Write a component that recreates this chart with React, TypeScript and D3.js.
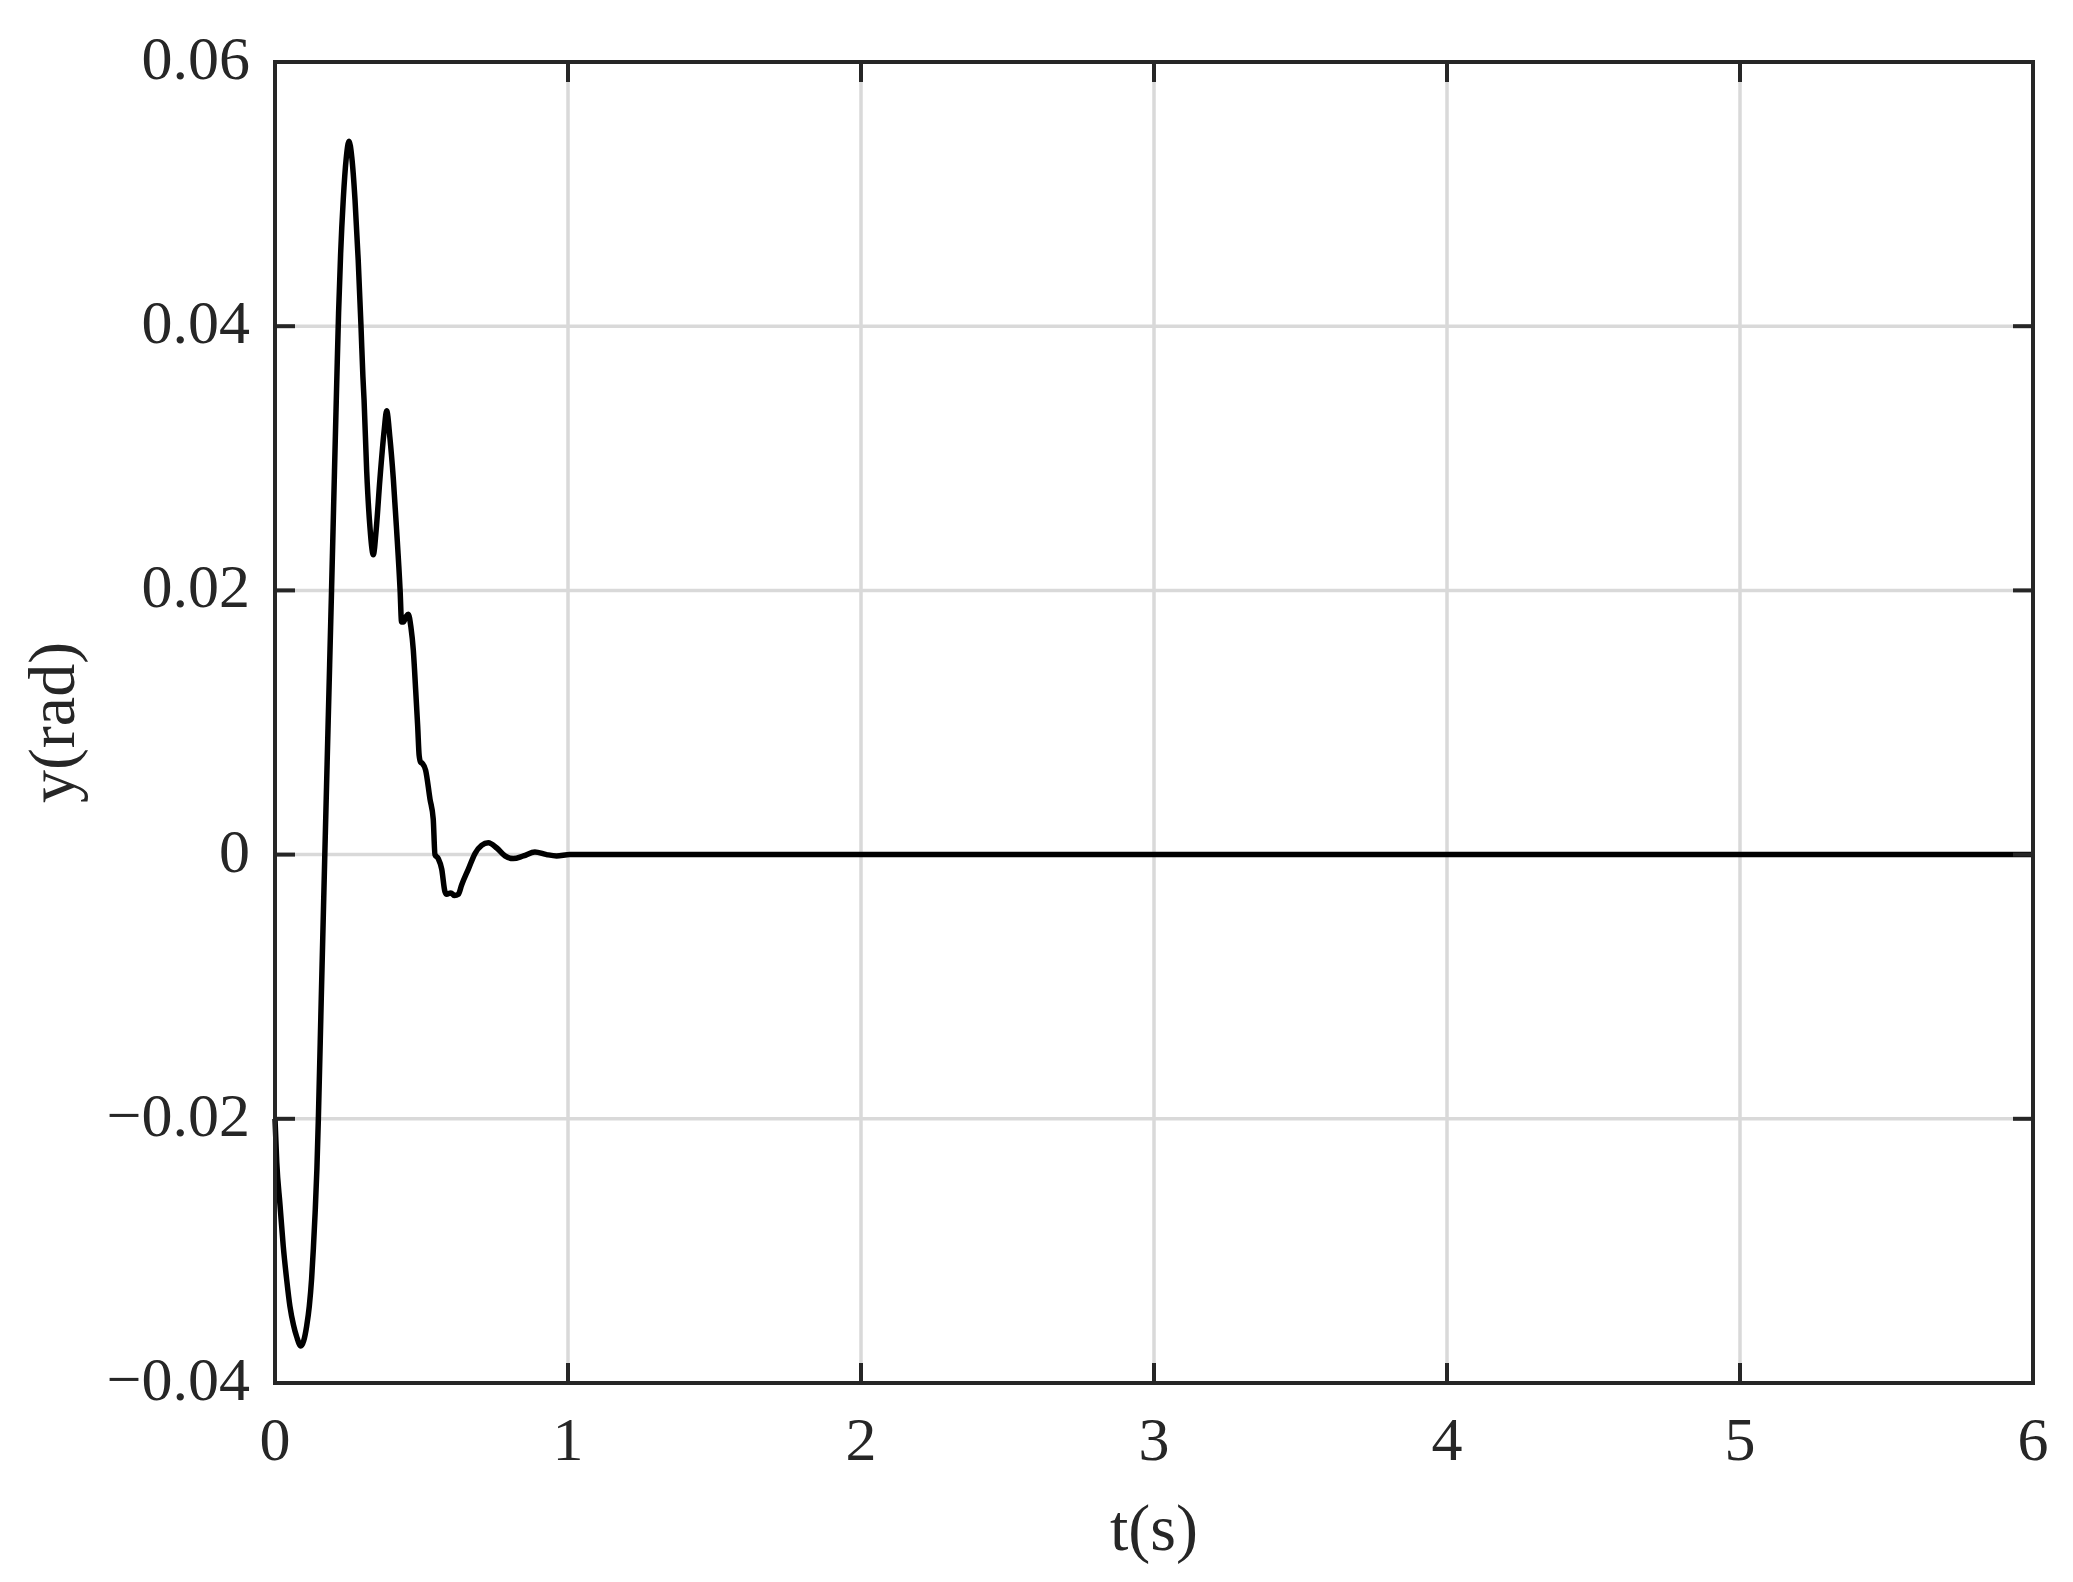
import React, { useRef, useEffect } from "react";
import * as d3 from "d3";

const timeData = [
  0, 0.006, 0.017, 0.028, 0.04, 0.051, 0.063, 0.074, 0.088, 0.098, 0.108, 0.117,
  0.125, 0.131, 0.137, 0.143, 0.148, 0.158, 0.17, 0.182, 0.193, 0.203, 0.211,
  0.217, 0.224, 0.233, 0.243, 0.2526, 0.262, 0.273, 0.284, 0.2935, 0.3, 0.304,
  0.313, 0.324, 0.3356, 0.345, 0.358, 0.373, 0.381, 0.392, 0.404, 0.415, 0.427,
  0.432, 0.438, 0.447, 0.455, 0.464, 0.472, 0.48, 0.487, 0.492, 0.497, 0.503,
  0.514, 0.529, 0.54, 0.546, 0.557, 0.569, 0.58, 0.586, 0.6, 0.613, 0.626, 0.637,
  0.66, 0.683, 0.705, 0.728, 0.757, 0.785, 0.813, 0.848, 0.887, 0.927, 0.961,
  1.006, 1.2, 2, 3, 4, 5, 6,
];
const angleData = [
  -0.02, -0.0233, -0.0265, -0.0296, -0.0322, -0.0342, -0.0356, -0.0365, -0.0372,
  -0.0368, -0.0357, -0.0342, -0.0321, -0.0298, -0.0271, -0.0238, -0.02, -0.0108,
  0, 0.0105, 0.02, 0.029, 0.036, 0.041, 0.0455, 0.0496, 0.0527, 0.054, 0.0528,
  0.0496, 0.045, 0.04, 0.0362, 0.0344, 0.029, 0.0248, 0.0227, 0.0245, 0.0284,
  0.0322, 0.0336, 0.0316, 0.0284, 0.0246, 0.02, 0.0176, 0.0176, 0.018, 0.0182,
  0.0172, 0.0155, 0.0125, 0.0097, 0.0075, 0.007, 0.0069, 0.0064, 0.0042, 0.0027,
  0, -0.0003, -0.0011, -0.0028, -0.003, -0.0029, -0.0031, -0.003, -0.0023,
  -0.0011, 0.0001, 0.0007, 0.0009, 0.0005, -0.0001, -0.0003, -0.0001, 0.0002, 0,
  -0.0001, 0, 0, 0, 0, 0, 0, 0,
];

const xTicks = [0, 1, 2, 3, 4, 5, 6];
const yTicks = [-0.04, -0.02, 0, 0.02, 0.04, 0.06];
const yTickLabels = ["\u22120.04", "\u22120.02", "0", "0.02", "0.04", "0.06"];

const W = 2073;
const H = 1582;
const margin = { left: 275, right: 40, top: 62, bottom: 199 };
const FONT = "'Liberation Serif', 'DejaVu Serif', serif";
const AXIS_COLOR = "#262626";

const App = () => {
  const svgRef = useRef(null);

  useEffect(() => {
    const svg = d3.select(svgRef.current);
    svg.selectAll("*").remove();

    const x = d3.scaleLinear().domain([0, 6]).range([margin.left, W - margin.right]);
    const y = d3.scaleLinear().domain([-0.04, 0.06]).range([H - margin.bottom, margin.top]);
    const [x0, x1] = x.range();
    const [y0, y1] = y.range();

    svg.append("rect").attr("width", W).attr("height", H).attr("fill", "#fff");

    // grid
    const grid = svg.append("g").attr("stroke", "#d9d9d9").attr("stroke-width", 3.5);
    grid
      .selectAll(".vg")
      .data(xTicks.slice(1, -1))
      .enter()
      .append("line")
      .attr("x1", (d) => x(d))
      .attr("x2", (d) => x(d))
      .attr("y1", y1)
      .attr("y2", y0);
    grid
      .selectAll(".hg")
      .data(yTicks.slice(1, -1))
      .enter()
      .append("line")
      .attr("x1", x0)
      .attr("x2", x1)
      .attr("y1", (d) => y(d))
      .attr("y2", (d) => y(d));

    // response curve
    const points = timeData.map((t, i) => [t, angleData[i]]);
    const line = d3
      .line()
      .x((d) => x(d[0]))
      .y((d) => y(d[1]))
      .curve(d3.curveMonotoneX);
    svg
      .append("path")
      .datum(points)
      .attr("d", line)
      .attr("fill", "none")
      .attr("stroke", "#000")
      .attr("stroke-width", 5.5)
      .attr("stroke-linejoin", "round");

    // ticks (inside, on all four sides)
    const tickLen = 20;
    const ticks = svg.append("g").attr("stroke", AXIS_COLOR).attr("stroke-width", 4);
    xTicks.forEach((d) => {
      ticks.append("line").attr("x1", x(d)).attr("x2", x(d)).attr("y1", y0).attr("y2", y0 - tickLen);
      ticks.append("line").attr("x1", x(d)).attr("x2", x(d)).attr("y1", y1).attr("y2", y1 + tickLen);
    });
    yTicks.forEach((d) => {
      ticks.append("line").attr("x1", x0).attr("x2", x0 + tickLen).attr("y1", y(d)).attr("y2", y(d));
      ticks.append("line").attr("x1", x1).attr("x2", x1 - tickLen).attr("y1", y(d)).attr("y2", y(d));
    });

    // frame
    svg
      .append("rect")
      .attr("x", x0)
      .attr("y", y1)
      .attr("width", x1 - x0)
      .attr("height", y0 - y1)
      .attr("fill", "none")
      .attr("stroke", AXIS_COLOR)
      .attr("stroke-width", 4);

    // tick labels
    const labels = svg
      .append("g")
      .attr("font-family", FONT)
      .attr("font-size", 62)
      .attr("fill", AXIS_COLOR);
    labels
      .selectAll(".xl")
      .data(xTicks)
      .enter()
      .append("text")
      .attr("x", (d) => x(d))
      .attr("y", y0 + 77)
      .attr("text-anchor", "middle")
      .text((d) => d);
    labels
      .selectAll(".yl")
      .data(yTicks)
      .enter()
      .append("text")
      .attr("x", x0 - 25)
      .attr("y", (d) => y(d) + 17)
      .attr("text-anchor", "end")
      .text((d, i) => yTickLabels[i]);

    // axis titles
    svg
      .append("text")
      .attr("x", (x0 + x1) / 2)
      .attr("y", 1550)
      .attr("text-anchor", "middle")
      .attr("font-family", FONT)
      .attr("font-size", 66)
      .attr("fill", AXIS_COLOR)
      .text("t(s)");
    svg
      .append("text")
      .attr("transform", `translate(74,${(y0 + y1) / 2}) rotate(-90)`)
      .attr("text-anchor", "middle")
      .attr("font-family", FONT)
      .attr("font-size", 66)
      .attr("fill", AXIS_COLOR)
      .text("y(rad)");
  }, []);

  return (
    <svg
      ref={svgRef}
      width={W}
      height={H}
      style={{ position: "absolute", left: 0, top: 0, display: "block" }}
    />
  );
};

export default App;
